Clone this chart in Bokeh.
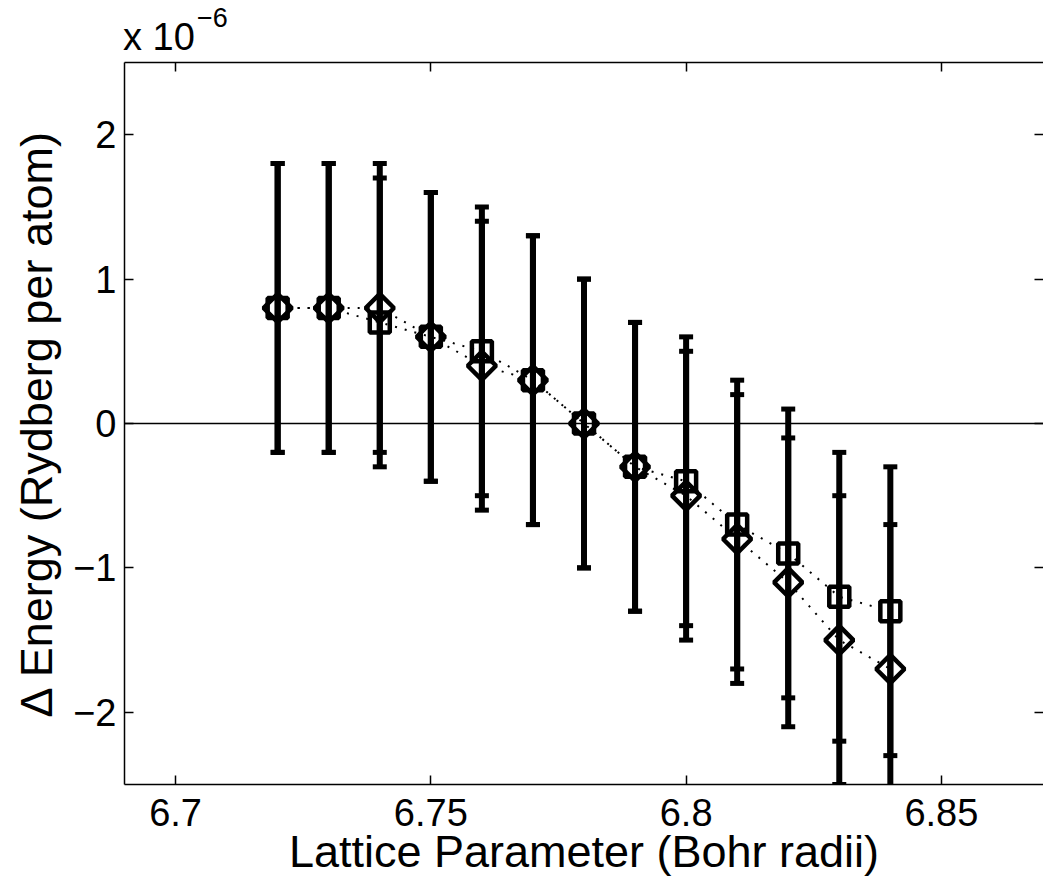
import math
from bokeh.plotting import figure
from bokeh.layouts import column
from bokeh.models import (ColumnDataSource, Whisker, TeeHead, LinearAxis, FixedTicker,
                          Span, Range1d, Div)
from bokeh.embed import file_html
from bokeh.resources import INLINE

# ---- data (energies in units of 1e-6 Rydberg per atom) ----
lattice = [6.72, 6.73, 6.74, 6.75, 6.76, 6.77, 6.78, 6.79, 6.80, 6.81, 6.82, 6.83, 6.84]
energy_square = [0.8, 0.8, 0.7, 0.6, 0.5, 0.3, 0.0, -0.3, -0.4, -0.7, -0.9, -1.2, -1.3]
energy_diamond = [0.8, 0.8, 0.8, 0.6, 0.4, 0.3, 0.0, -0.3, -0.5, -0.8, -1.1, -1.5, -1.7]
error_square = [1.0, 1.0, 1.0, 1.0, 1.0, 1.0, 1.0, 1.0, 1.0, 1.0, 1.0, 1.0, 1.0]
error_diamond = [1.0, 1.0, 1.0, 1.0, 1.0, 1.0, 1.0, 1.0, 1.0, 1.0, 1.0, 1.0, 1.0]

x_ticks = [6.7, 6.75, 6.8, 6.85]
x_tick_labels = ["6.7", "6.75", "6.8", "6.85"]
y_ticks = [-2, -1, 0, 1, 2]
y_tick_labels = ["\u22122", "\u22121", "0", "1", "2"]

x_label = "Lattice Parameter (Bohr radii)"
y_label = "\u0394 Energy (Rydberg per atom)"
exp_base = "x 10"
exp_power = "\u22126"

FONT = "Liberation Sans"
HEADER_H = 55
LEFT = 124
W = 1043

src_sq = ColumnDataSource(dict(
    x=lattice, y=energy_square,
    upper=[v + e for v, e in zip(energy_square, error_square)],
    lower=[v - e for v, e in zip(energy_square, error_square)],
))
src_di = ColumnDataSource(dict(
    x=lattice, y=energy_diamond,
    upper=[v + e for v, e in zip(energy_diamond, error_diamond)],
    lower=[v - e for v, e in zip(energy_diamond, error_diamond)],
))

# ---- header holding the "x 10^-6" multiplier ----
span_css = "position:absolute; white-space:nowrap; line-height:1; color:black; font-family:'Liberation Sans';"
header_html = (
    '<div style="position:relative; width:%dpx; height:%dpx;">'
    '<span style="%s left:123px; top:18px; font-size:38px;">%s</span>'
    '<span style="%s left:197px; top:5px; font-size:27px;">%s</span>'
    '</div>' % (W, HEADER_H, span_css, exp_base, span_css, exp_power)
)
header = Div(text=header_html, width=W, height=HEADER_H, margin=(0, 0, 0, 0))

# ---- main plot ----
p = figure(width=W, height=884 - HEADER_H, output_backend="svg", toolbar_location=None,
           x_range=Range1d(6.69, 6.87), y_range=Range1d(-2.5, 2.5),
           min_border_left=LEFT, min_border_right=0, min_border_top=62 - HEADER_H,
           min_border_bottom=100)
p.grid.visible = False
p.outline_line_color = None

# zero line
p.add_layout(Span(location=0, dimension="width", line_color="black", line_width=1.5))

# error bars
for src in (src_sq, src_di):
    w = Whisker(source=src, base="x", upper="upper", lower="lower",
                line_color="black", line_width=6,
                upper_head=TeeHead(size=14, line_width=5, line_color="black"),
                lower_head=TeeHead(size=14, line_width=5, line_color="black"))
    p.add_layout(w)

# dotted connecting lines
p.line("x", "y", source=src_sq, line_color="black", line_width=2, line_dash="2 8")
p.line("x", "y", source=src_di, line_color="black", line_width=2, line_dash="2 8")

# markers
p.scatter("x", "y", source=src_sq, marker="square", size=20, line_width=4.5,
          line_color="black", fill_alpha=0)
p.scatter("x", "y", source=src_di, marker="square", angle=math.pi / 4, size=20,
          line_width=4.5, line_color="black", fill_alpha=0)

# axes
def style_axis(ax, show_labels):
    ax.axis_line_color = "black"
    ax.axis_line_width = 1.5
    ax.major_tick_in = 9
    ax.major_tick_out = 0
    ax.major_tick_line_color = "black"
    ax.major_tick_line_width = 1.5
    ax.minor_tick_in = 0
    ax.minor_tick_out = 0
    ax.major_label_text_font = FONT
    if show_labels:
        ax.major_label_text_color = "black"
        ax.major_label_text_font_size = "38px"
    else:
        ax.major_label_text_color = None
        ax.major_label_standoff = 0

xa = p.xaxis[0]
xa.ticker = FixedTicker(ticks=x_ticks)
xa.major_label_overrides = dict(zip(x_ticks, x_tick_labels))
style_axis(xa, True)
xa.major_label_standoff = 14
xa.axis_label = x_label
xa.axis_label_text_font = FONT
xa.axis_label_text_font_size = "45px"
xa.axis_label_text_font_style = "normal"
xa.axis_label_text_color = "black"
xa.axis_label_standoff = -3

ya = p.yaxis[0]
ya.ticker = FixedTicker(ticks=y_ticks)
ya.major_label_overrides = dict(zip(y_ticks, y_tick_labels))
style_axis(ya, True)
ya.major_label_standoff = 8
ya.axis_label = y_label
ya.axis_label_text_font = FONT
ya.axis_label_text_font_size = "45px"
ya.axis_label_text_font_style = "normal"
ya.axis_label_text_color = "black"
ya.axis_label_standoff = 8

top = LinearAxis(ticker=FixedTicker(ticks=x_ticks))
style_axis(top, False)
p.add_layout(top, "above")
right = LinearAxis(ticker=FixedTicker(ticks=y_ticks))
style_axis(right, False)
right.axis_line_color = None   # the right spine lies just beyond the picture's edge
p.add_layout(right, "right")

layout = column(header, p, spacing=0)
open("out.html", "w").write(file_html(layout, INLINE))
